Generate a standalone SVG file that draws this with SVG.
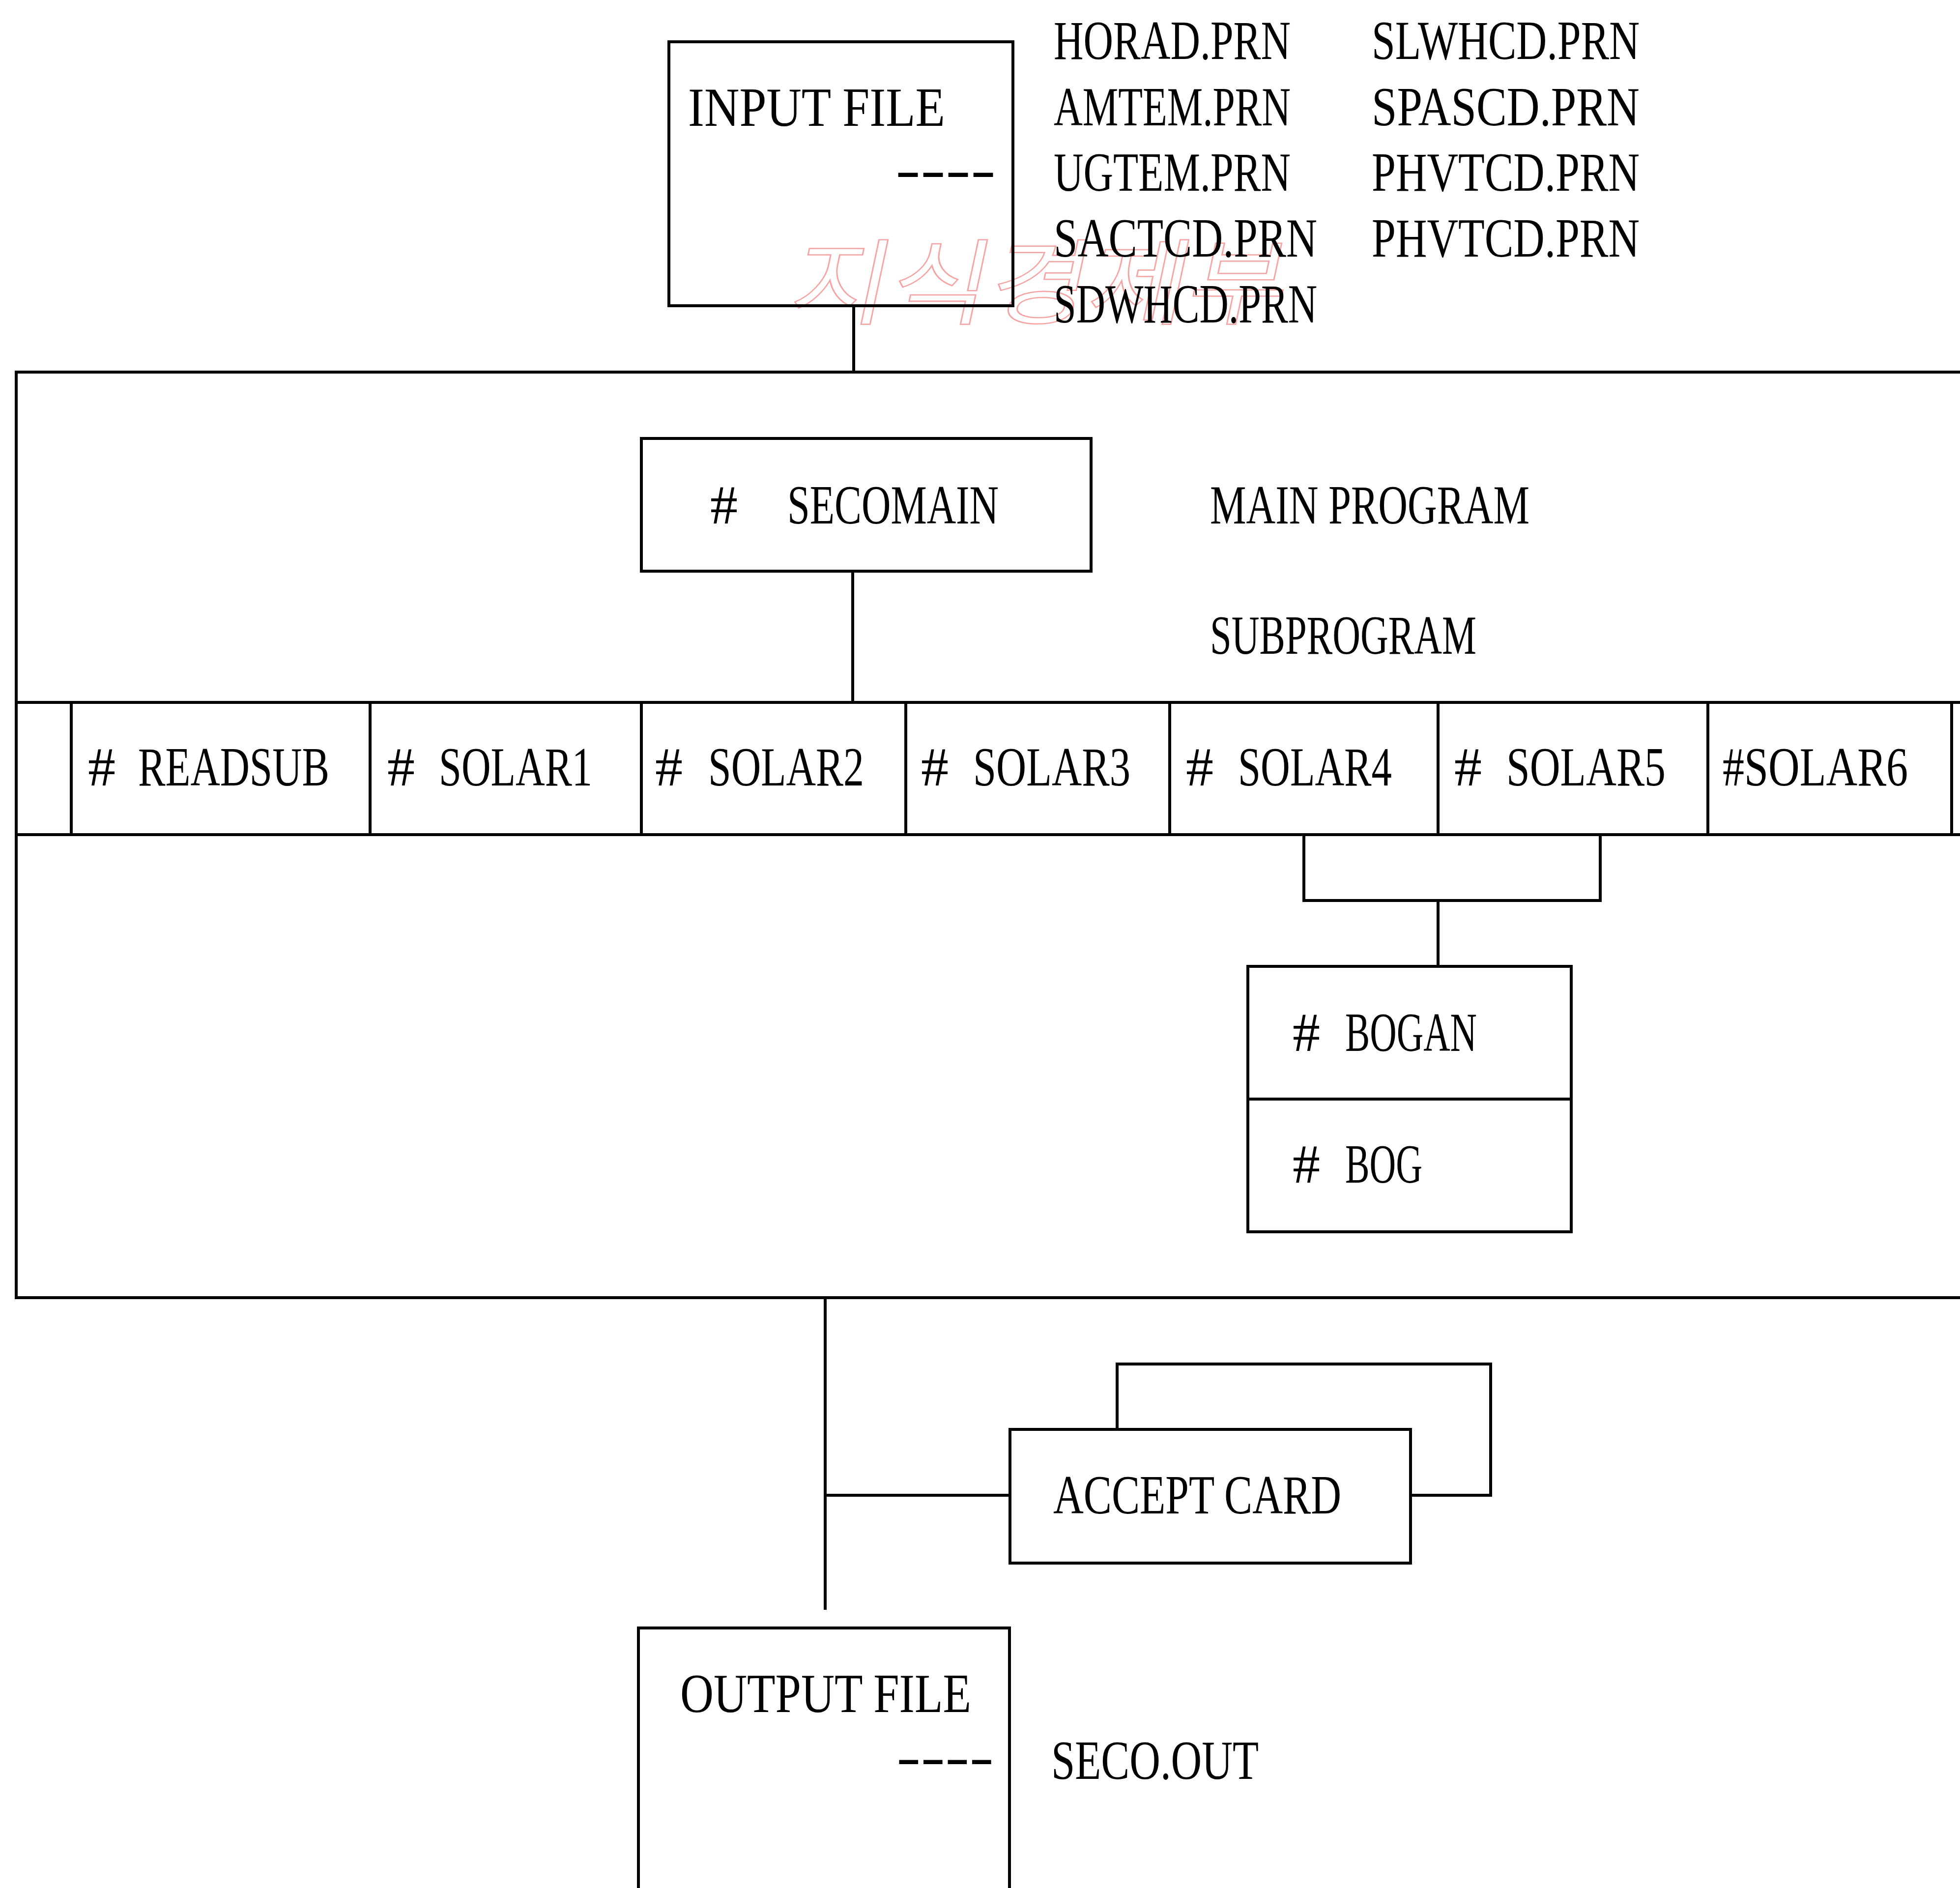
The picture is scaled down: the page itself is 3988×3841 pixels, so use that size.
<svg xmlns="http://www.w3.org/2000/svg" width="3988" height="3841" viewBox="0 0 3988 3841">
<style>
.ln{stroke:#000;stroke-width:6;fill:none}
.bx{stroke:#000;stroke-width:6;fill:none}
.t{font-family:"Liberation Serif","Times New Roman",serif;font-size:112px;fill:#000}
.wm{font-family:"Noto Sans CJK KR","Noto Sans",sans-serif;font-size:190px;fill:none;stroke:#f5a3a3;stroke-width:2.5}
</style>
<rect width="3988" height="3841" fill="#fff"/>

<g id="watermark">
<text class="wm" x="0" y="0" transform="translate(1600,645) skewX(-12)" textLength="1010" lengthAdjust="spacingAndGlyphs">지식경제부</text>
</g>

<g id="connectors">
<path class="ln" d="M1737 622 V757"/>
<path class="ln" d="M1735 1162 V1429"/>
<path class="ln" d="M2653 1698 V1832 H3256 V1698"/>
<path class="ln" d="M2926 1832 V1966"/>
<path class="ln" d="M1679 2640 V3275"/>
<path class="ln" d="M1679 3042 H2055"/>
</g>

<g id="input-file">
<rect class="bx" x="1361" y="85" width="700" height="537"/>
<text class="t" x="1400" y="256" textLength="523" lengthAdjust="spacingAndGlyphs">INPUT FILE</text>
<text class="t" x="1822" y="382" textLength="204" lengthAdjust="spacingAndGlyphs">----</text>
</g>

<g id="input-file-list">
<text class="t" x="2144" y="120" textLength="482" lengthAdjust="spacingAndGlyphs">HORAD.PRN</text>
<text class="t" x="2144" y="255" textLength="482" lengthAdjust="spacingAndGlyphs">AMTEM.PRN</text>
<text class="t" x="2144" y="388" textLength="482" lengthAdjust="spacingAndGlyphs">UGTEM.PRN</text>
<text class="t" x="2144" y="522" textLength="536" lengthAdjust="spacingAndGlyphs">SACTCD.PRN</text>
<text class="t" x="2144" y="656" textLength="536" lengthAdjust="spacingAndGlyphs">SDWHCD.PRN</text>
<text class="t" x="2791" y="120" textLength="545" lengthAdjust="spacingAndGlyphs">SLWHCD.PRN</text>
<text class="t" x="2791" y="255" textLength="545" lengthAdjust="spacingAndGlyphs">SPASCD.PRN</text>
<text class="t" x="2791" y="388" textLength="545" lengthAdjust="spacingAndGlyphs">PHVTCD.PRN</text>
<text class="t" x="2791" y="522" textLength="545" lengthAdjust="spacingAndGlyphs">PHVTCD.PRN</text>
</g>

<g id="program-frame">
<path class="ln" d="M3988 757 H33 V2640 H3988"/>
<text class="t" x="2462" y="1065" textLength="650" lengthAdjust="spacingAndGlyphs">MAIN PROGRAM</text>
<text class="t" x="2462" y="1330" textLength="542" lengthAdjust="spacingAndGlyphs">SUBPROGRAM</text>
</g>

<g id="secomain">
<rect class="bx" x="1305" y="892" width="915" height="270"/>
<text class="t"><tspan x="1445" y="1065">#</tspan> <tspan x="1602" y="1065" textLength="430" lengthAdjust="spacingAndGlyphs">SECOMAIN</tspan></text>
</g>

<g id="subprogram-row">
<path class="ln" d="M33 1429 H3988 M33 1698 H3988 M145 1429 V1698 M753 1429 V1698 M1305 1429 V1698 M1843 1429 V1698 M2380 1429 V1698 M2926 1429 V1698 M3475 1429 V1698 M3971 1429 V1698"/>
</g>
<g id="readsub"><text class="t"><tspan x="179" y="1598">#</tspan> <tspan x="281" y="1598" textLength="389" lengthAdjust="spacingAndGlyphs">READSUB</tspan></text></g>
<g id="solar1"><text class="t"><tspan x="788" y="1598">#</tspan> <tspan x="893" y="1598" textLength="312" lengthAdjust="spacingAndGlyphs">SOLAR1</tspan></text></g>
<g id="solar2"><text class="t"><tspan x="1333" y="1598">#</tspan> <tspan x="1441" y="1598" textLength="317" lengthAdjust="spacingAndGlyphs">SOLAR2</tspan></text></g>
<g id="solar3"><text class="t"><tspan x="1874" y="1598">#</tspan> <tspan x="1980" y="1598" textLength="320" lengthAdjust="spacingAndGlyphs">SOLAR3</tspan></text></g>
<g id="solar4"><text class="t"><tspan x="2413" y="1598">#</tspan> <tspan x="2519" y="1598" textLength="313" lengthAdjust="spacingAndGlyphs">SOLAR4</tspan></text></g>
<g id="solar5"><text class="t"><tspan x="2959" y="1598">#</tspan> <tspan x="3065" y="1598" textLength="324" lengthAdjust="spacingAndGlyphs">SOLAR5</tspan></text></g>
<g id="solar6"><text class="t" x="3505" y="1598" textLength="377" lengthAdjust="spacingAndGlyphs">#SOLAR6</text></g>

<g id="bogan">
<rect class="bx" x="2539" y="1966" width="658" height="540"/>
<path class="ln" d="M2539 2236 H3197"/>
<text class="t"><tspan x="2630" y="2138">#</tspan> <tspan x="2737" y="2138" textLength="268" lengthAdjust="spacingAndGlyphs">BOGAN</tspan></text>
<text class="t"><tspan x="2630" y="2406">#</tspan> <tspan x="2737" y="2406" textLength="157" lengthAdjust="spacingAndGlyphs">BOG</tspan></text>
</g>

<g id="accept-card">
<path class="ln" d="M2273 2908 V2775 H3033 V3042 H2870"/>
<rect class="bx" x="2055" y="2908" width="815" height="272"/>
<text class="t" x="2143" y="3079" textLength="586" lengthAdjust="spacingAndGlyphs">ACCEPT CARD</text>
</g>

<g id="output-file">
<rect class="bx" x="1299" y="3312" width="755" height="600"/>
<text class="t" x="1384" y="3483" textLength="592" lengthAdjust="spacingAndGlyphs">OUTPUT FILE</text>
<text class="t" x="1824" y="3611" textLength="198" lengthAdjust="spacingAndGlyphs">----</text>
<text class="t" x="2139" y="3619" textLength="422" lengthAdjust="spacingAndGlyphs">SECO.OUT</text>
</g>
</svg>
